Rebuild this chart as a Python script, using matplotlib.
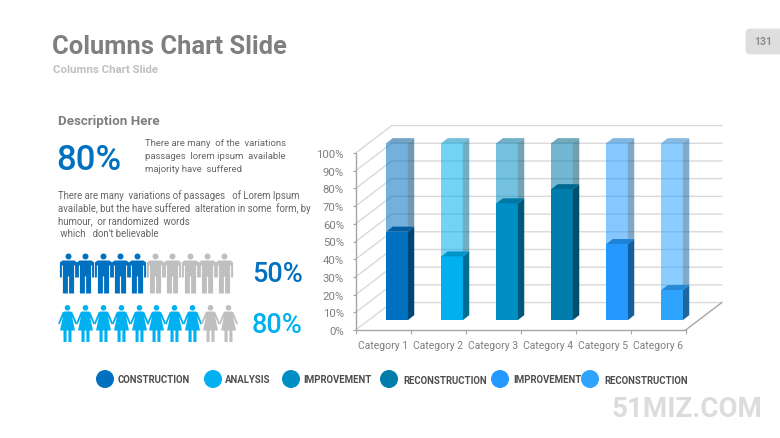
import matplotlib
matplotlib.use("Agg")
import matplotlib.pyplot as plt
from matplotlib.patches import Ellipse, FancyBboxPatch
from matplotlib.path import Path
from matplotlib.ticker import FixedLocator

categories = ["Category 1", "Category 2", "Category 3", "Category 4", "Category 5", "Category 6"]
values = [50, 36, 66, 74, 43, 17]
bar_colors = ["#0070C0", "#00B0F0", "#008FC4", "#007DAD", "#2399FF", "#2EA4FF"]
y_ticks = [0, 10, 20, 30, 40, 50, 60, 70, 80, 90, 100]
legend_labels = ["CONSTRUCTION", "ANALYSIS", "IMPROVEMENT", "RECONSTRUCTION", "IMPROVEMENT", "RECONSTRUCTION"]
men_pct = 50
women_pct = 80
big_pct = 80
icons_total = 10

W, H = 780, 439
plt.rcParams["font.family"] = ["Roboto", "DejaVu Sans"]
fig = plt.figure(figsize=(W / 100, H / 100), dpi=100, facecolor="white")

# overlay in pixel units for the slide furniture
pg = fig.add_axes([0, 0, 1, 1])
pg.set_xlim(0, W)
pg.set_ylim(H, 0)
pg.axis("off")

# chart: front plane of the fake 3d box
ax = fig.add_axes([355.7 / W, (H - 331) / H, 330 / W, 177 / H])
ax.set_xlim(0, 6)
ax.set_ylim(0, 100)
ax.patch.set_alpha(0)
for s in ["top", "right"]:
    ax.spines[s].set_visible(False)
for s in ["left", "bottom"]:
    ax.spines[s].set_color("#a6a6a6")
    ax.spines[s].set_linewidth(1.0)

wall_dx, wall_dy = 0.655, 15.5
bar_dx, bar_dy = 0.2545, 5.6
side_dx, side_dy = 0.115, 2.8
bar_w = 0.39

for v in y_ticks:
    ax.plot([0, wall_dx, 6 + wall_dx], [v, v + wall_dy, v + wall_dy], color="#d9d9d9",
            lw=1.0, clip_on=False, zorder=1)
ax.plot([6, 6 + wall_dx], [0, wall_dy], color="#a6a6a6", lw=1.0, clip_on=False, zorder=1)


def dark(hexcol, f):
    r, g, b = matplotlib.colors.to_rgb(hexcol)
    return (r * f, g * f, b * f)


for i, v in enumerate(values):
    c = bar_colors[i]
    left = i + 0.5 + bar_dx - bar_w / 2
    right = left + bar_w
    base = bar_dy
    # remainder up to 100%
    ax.bar(i + 0.5 + bar_dx, 100 - v, bar_w, bottom=base + v, color=c, alpha=0.55, zorder=2, clip_on=False)
    ax.fill([right, right + side_dx, right + side_dx, right],
            [base + v, base + v + side_dy, base + 100 + side_dy, base + 100],
            color=dark(c, 0.62), alpha=0.55, lw=0, zorder=2, clip_on=False)
    ax.fill([left, right, right + side_dx, left + side_dx],
            [base + 100, base + 100, base + 100 + side_dy, base + 100 + side_dy],
            color=dark(c, 0.8), alpha=0.55, lw=0, zorder=2, clip_on=False)
    # solid part
    ax.bar(i + 0.5 + bar_dx, v, bar_w, bottom=base, color=c, zorder=3, clip_on=False)
    ax.fill([right, right + side_dx, right + side_dx, right],
            [base, base + side_dy, base + v + side_dy, base + v],
            color=dark(c, 0.62), lw=0, zorder=3, clip_on=False)
    ax.fill([left, right, right + side_dx, left + side_dx],
            [base + v, base + v, base + v + side_dy, base + v + side_dy],
            color=dark(c, 0.84), lw=0, zorder=3, clip_on=False)

ax.set_yticks(y_ticks)
ax.set_yticklabels([f"{v}%" for v in y_ticks], fontsize=8.2, color="#7f7f7f")
ax.tick_params(axis="y", length=2.5, width=0.8, color="#a6a6a6", pad=6)
ax.set_xticks([i + 0.5 for i in range(len(categories))])
ax.set_xticklabels(categories, fontsize=7.5, color="#7f7f7f")
ax.xaxis.set_minor_locator(FixedLocator(list(range(len(categories) + 1))))
ax.tick_params(axis="x", which="major", length=0, pad=7)
ax.tick_params(axis="x", which="minor", length=3, width=0.8, color="#a6a6a6")

# titles
pg.text(52, 47.5, "Columns Chart Slide", fontsize=18.4, fontweight="bold", color="#7f7f7f", va="center")
pg.text(53, 70, "Columns Chart Slide", fontsize=8.2, fontweight="bold", color="#bfbfbf", va="center")
pg.add_patch(FancyBboxPatch((747, 31), 40, 23, boxstyle="round,pad=0,rounding_size=3", fc="#dedede", ec="#dedede", lw=2))
pg.text(763, 42, "131", fontsize=7.5, fontweight="bold", color="#8c8c8c", ha="center", va="center")
pg.text(762, 410, "51MIZ.COM", fontsize=20, fontweight="bold", color="#dcdcdc", ha="right", va="center")

# left text column
pg.text(58, 121.5, "Description Here", fontsize=9.6, fontweight="bold", color="#7f7f7f", va="center")
pg.text(56, 161, f"{big_pct}%", fontsize=25, fontweight="medium", color="#0070C0", va="center")
for yy, line in zip([144, 157, 170], ["There are many  of the  variations", "passages  lorem ipsum  available", "majority have  suffered"]):
    pg.text(145, yy, line, fontsize=6.8, color="#666666", va="center")
for yy, line in zip([196, 209, 221, 234], ["There are many  variations of passages   of Lorem Ipsum",
                                           "available, but the have suffered  alteration in some  form, by",
                                           "humour,  or randomized  words",
                                           " which   don't believable"]):
    pg.text(58, yy, line, fontsize=6.9, color="#666666", va="center")

# pictograms
head = lambda cy, r: Path.circle((0, cy), r)
man = Path.make_compound_path(head(17, 3), Path([
    (-6, 13), (6, 13), (8.6, 11), (8.6, -4), (6.6, -4), (6.6, 8), (5.6, 8), (5.6, -20), (0.6, -20), (0.6, -3),
    (-0.6, -3), (-0.6, -20), (-5.6, -20), (-5.6, 8), (-6.6, 8), (-6.6, -4), (-8.6, -4), (-8.6, 11), (-6, 13)]))
woman = Path.make_compound_path(head(15.7, 2.8), Path([
    (-3.5, 12), (3.5, 12), (5, 11), (9.5, 0), (8, -1), (4.5, 7), (7.5, -7), (4, -7), (4, -18.5), (0.9, -18.5),
    (0.9, -7), (-0.9, -7), (-0.9, -18.5), (-4, -18.5), (-4, -7), (-7.5, -7), (-4.5, 7), (-8, -1), (-9.5, 0),
    (-5, 11), (-3.5, 12)]))

for i in range(icons_total):
    c = "#0070C0" if i < men_pct / 100 * icons_total else "#bfbfbf"
    pg.plot(67.7 + 17.4 * i, 273.5, marker=man, ms=28.8, color=c, mew=0, ls="none")
    c = "#00B0F0" if i < women_pct / 100 * icons_total else "#bfbfbf"
    pg.plot(67.3 + 17.8 * i, 323.5, marker=woman, ms=26.6, color=c, mew=0, ls="none")
pg.text(252, 275, f"{men_pct}%", fontsize=19.5, fontweight="medium", color="#0070C0", va="center")
pg.text(252, 326, f"{women_pct}%", fontsize=19.5, fontweight="medium", color="#00B0F0", va="center")

# legend
dot_x = [105, 213, 291, 389, 500, 590]
text_x = [117.5, 224.5, 303.5, 403, 513, 604.5]
text_y = [380, 380, 380, 381, 380, 381]
for i, label in enumerate(legend_labels):
    pg.add_patch(Ellipse((dot_x[i], 380), 18, 18, fc=bar_colors[i], ec="none"))
    pg.text(text_x[i], text_y[i], label, fontsize=6.9, fontweight="bold", color="#4d4d4d", va="center")

fig.savefig("out.png", dpi=100)
